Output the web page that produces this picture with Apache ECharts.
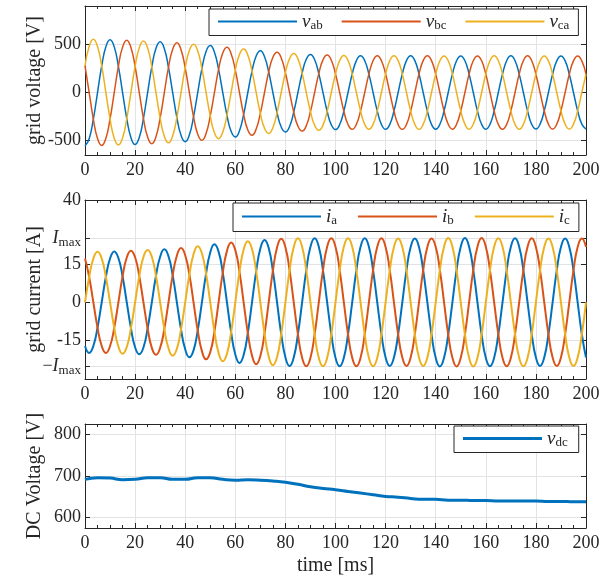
<!DOCTYPE html>
<html><head><meta charset="utf-8">
<script src="https://cdn.jsdelivr.net/npm/echarts@6/dist/echarts.min.js"></script>
<style>html,body{margin:0;padding:0;background:#fff}#c{width:601px;height:580px}</style>
</head><body><div id="c"></div>
<script>
const time = [0,1.67,3.33,5,6.67,8.33,10,11.67,13.33,15,16.67,18.33,
20,21.67,23.33,25,26.67,28.33,30,31.67,33.33,35,36.67,38.33,
40,41.67,43.33,45,46.67,48.33,50,51.67,53.33,55,56.67,58.33,
60,61.67,63.33,65,66.67,68.33,70,71.67,73.33,75,76.67,78.33,
80,81.67,83.33,85,86.67,88.33,90,91.67,93.33,95,96.67,98.33,
100,101.67,103.33,105,106.67,108.33,110,111.67,113.33,115,116.67,118.33,
120,121.67,123.33,125,126.67,128.33,130,131.67,133.33,135,136.67,138.33,
140,141.67,143.33,145,146.67,148.33,150,151.67,153.33,155,156.67,158.33,
160,161.67,163.33,165,166.67,168.33,170,171.67,173.33,175,176.67,178.33,
180,181.67,183.33,185,186.67,188.33,190,191.67,193.33,195,196.67,198.33,
200];
const vab = [-555,-480,-277,0,276,476,549,475,273,0,-272,-469,
-541,-467,-269,0,267,460,529,456,262,0,-259,-445,
-511,-439,-252,0,248,426,488,419,240,0,-236,-404,
-463,-397,-227,0,222,380,434,372,213,0,-210,-359,
-411,-353,-203,0,201,346,396,341,197,0,-195,-336,
-386,-333,-193,0,192,332,382,331,191,0,-191,-331,
-383,-332,-192,0,192,332,383,332,192,0,-192,-332,
-381,-330,-191,0,191,330,381,330,191,0,-191,-330,
-382,-331,-191,0,191,331,382,331,191,0,-191,-331,
-380,-329,-190,0,190,329,380,329,190,0,-190,-329,
-380];
const vbc = [278,0,-277,-478,-551,-476,-275,0,273,472,544,469,
271,0,-269,-463,-533,-460,-265,0,262,450,517,445,
256,0,-252,-433,-496,-426,-244,0,240,412,471,404,
232,0,-227,-389,-444,-380,-217,0,213,366,419,359,
206,0,-203,-350,-401,-346,-198,0,197,339,389,336,
193,0,-193,-333,-383,-332,-191,0,191,331,382,331,
192,0,-192,-332,-383,-332,-192,0,192,332,383,332,
191,0,-191,-330,-381,-330,-191,0,191,330,381,330,
191,0,-191,-331,-382,-331,-191,0,191,331,382,331,
190,0,-190,-329,-380,-329,-190,0,190,329,380,329,
190];
const vca = [278,480,553,478,276,0,-275,-475,-546,-472,-272,0,
271,467,537,463,267,0,-265,-456,-523,-450,-259,0,
256,439,503,433,248,0,-244,-419,-480,-412,-236,0,
232,397,453,389,222,0,-217,-372,-426,-366,-210,0,
206,353,406,350,201,0,-198,-341,-393,-339,-195,0,
193,333,385,333,192,0,-191,-331,-382,-331,-191,0,
192,332,383,332,192,0,-192,-332,-383,-332,-192,0,
191,330,381,330,191,0,-191,-330,-381,-330,-191,0,
191,331,382,331,191,0,-191,-331,-382,-331,-191,0,
190,329,380,329,190,0,-190,-329,-380,-329,-190,0,
190];
const ia = [-17.1,-19.8,-17.1,-9.9,0,9.9,17.1,19.9,17.3,10.1,0,-10.1,
-17.6,-20.3,-17.7,-10.2,0,10.3,17.8,20.7,18.0,10.5,0,-10.6,
-18.4,-21.5,-18.8,-11.0,0,11.2,19.5,22.7,19.8,11.6,0,-11.7,
-20.4,-23.7,-20.6,-12.0,0,12.1,21.0,24.4,21.2,12.3,0,-12.4,
-21.5,-24.9,-21.6,-12.5,0,12.5,21.7,25,21.7,12.5,0,-12.5,
-21.7,-25,-21.7,-12.5,0,12.5,21.7,25,21.7,12.5,0,-12.5,
-21.6,-24.9,-21.6,-12.5,0,12.5,21.6,24.9,21.6,12.5,0,-12.5,
-21.7,-25.1,-21.7,-12.6,0,12.6,21.7,25.1,21.7,12.6,0,-12.6,
-21.7,-25,-21.7,-12.5,0,12.5,21.7,25,21.7,12.5,0,-12.5,
-21.6,-24.9,-21.6,-12.5,0,12.5,21.6,24.9,21.6,12.5,0,-12.5,
-21.6];
const ib = [17.1,9.9,0,-9.9,-17.1,-19.8,-17.1,-10.0,0,10.1,17.5,20.2,
17.6,10.2,0,-10.2,-17.8,-20.5,-17.8,-10.4,0,10.5,18.2,21.2,
18.4,10.8,0,-11.0,-19.1,-22.3,-19.5,-11.4,0,11.6,20.1,23.4,
20.4,11.9,0,-12.0,-20.8,-24.2,-21.0,-12.2,0,12.3,21.4,24.8,
21.5,12.5,0,-12.5,-21.7,-25,-21.7,-12.5,0,12.5,21.7,25,
21.7,12.5,0,-12.5,-21.7,-25,-21.7,-12.5,0,12.5,21.7,25,
21.6,12.5,0,-12.5,-21.6,-24.9,-21.6,-12.5,0,12.5,21.6,24.9,
21.7,12.6,0,-12.6,-21.7,-25.1,-21.7,-12.6,0,12.6,21.7,25.1,
21.7,12.5,0,-12.5,-21.7,-25,-21.7,-12.5,0,12.5,21.7,25,
21.6,12.5,0,-12.5,-21.6,-24.9,-21.6,-12.5,0,12.5,21.6,24.9,
21.6];
const ic = [0,9.9,17.1,19.8,17.1,9.9,0,-10.0,-17.3,-20.1,-17.5,-10.1,
0,10.2,17.7,20.4,17.8,10.3,0,-10.4,-18.0,-20.9,-18.2,-10.6,
0,10.8,18.8,21.9,19.1,11.2,0,-11.4,-19.8,-23.1,-20.1,-11.7,
0,11.9,20.6,23.9,20.8,12.1,0,-12.2,-21.2,-24.6,-21.4,-12.4,
0,12.5,21.6,25,21.7,12.5,0,-12.5,-21.7,-25,-21.7,-12.5,
0,12.5,21.7,25,21.7,12.5,0,-12.5,-21.7,-25,-21.7,-12.5,
0,12.5,21.6,24.9,21.6,12.5,0,-12.5,-21.6,-24.9,-21.6,-12.5,
0,12.6,21.7,25.1,21.7,12.6,0,-12.6,-21.7,-25.1,-21.7,-12.6,
0,12.5,21.7,25,21.7,12.5,0,-12.5,-21.7,-25,-21.7,-12.5,
0,12.5,21.6,24.9,21.6,12.5,0,-12.5,-21.6,-24.9,-21.6,-12.5,
0];
const dcTime = [0,5,10,15,20,25,30,35,40,45,50,55,60,65,70,75,80,85,90,95,100,
105,110,115,120,125,130,135,140,145,150,155,160,165,170,175,180,185,190,195,200];
const vdc = [692,696,695,691,692,696,696,692,692,696,696,692,690,691,690,688,685,680,674,670,667,
663,659,655,651,649,646,644,644,642,642,641,641,640,640,640,640,639,639,638,638];
const vTicks = [-500, 0, 500];
const iTicks = [-25, -15, 0, 15, 25, 40];
const dcTicks = [600, 700, 800];

const FONT = 'Liberation Serif';
const INK = '#262626';
const GRID = '#e3e3e3';
const C = ['#0072BD', '#D95319', '#EDB120'];

const sub = {
  v: {fontFamily: FONT, fontStyle: 'italic', fontSize: 19, color: INK, lineHeight: 22},
  s: {fontFamily: FONT, fontSize: 13, color: INK, verticalAlign: 'bottom', lineHeight: 22}
};
const legendNames = {
  vab: '{v|v}{s|ab}', vbc: '{v|v}{s|bc}', vca: '{v|v}{s|ca}',
  ia: '{v|i}{s|a}', ib: '{v|i}{s|b}', ic: '{v|i}{s|c}', vdc: '{v|v}{s|dc}'
};

function xAx(gi, pos) {
  return {
    type: 'value', gridIndex: gi, position: pos, min: 0, max: 200, interval: 20,
    axisLine: {show: true, onZero: false, lineStyle: {color: INK, width: 1}},
    axisTick: {show: true, inside: true, length: 5, lineStyle: {color: INK}},
    minorTick: {show: true, splitNumber: 4, length: 3, lineStyle: {color: INK}},
    splitLine: {show: pos === 'bottom', lineStyle: {color: GRID, width: 1}},
    axisLabel: {show: pos === 'bottom', fontFamily: FONT, fontSize: 18, color: INK, margin: 6},
    nameMoveOverlap: false,
    nameTextStyle: {fontFamily: FONT, fontSize: 20, color: INK}
  };
}
function yAx(gi, pos, min, max, ticks, fmt, name) {
  return {
    type: 'value', gridIndex: gi, position: pos, min: min, max: max,
    name: pos === 'left' ? name : '', nameLocation: 'middle', nameGap: 40,
    nameMoveOverlap: false,
    nameTextStyle: {fontFamily: FONT, fontSize: 20, color: INK},
    axisLine: {show: true, onZero: false, lineStyle: {color: INK, width: 1}},
    axisTick: {show: true, inside: true, length: 5, customValues: ticks, lineStyle: {color: INK}},
    splitLine: {show: pos === 'left', lineStyle: {color: GRID, width: 1}},
    axisLabel: {show: pos === 'left', customValues: ticks, formatter: fmt, fontFamily: FONT,
      fontSize: 18, color: INK, margin: 4,
      rich: {i: {fontFamily: FONT, fontStyle: 'italic', fontSize: 18, color: INK, lineHeight: 22},
             s: {fontFamily: FONT, fontSize: 13, color: INK, verticalAlign: 'bottom', lineHeight: 22},
             m: {fontFamily: FONT, fontSize: 18, color: INK, lineHeight: 22}}}
  };
}
const fmtPlain = v => (v < 0 ? '-' + Math.abs(v) : String(v));
const fmtI = v => v === 25 ? '{i|I}{s|max}' : v === -25 ? '{m|\u2212}{i|I}{s|max}' : fmtPlain(v);

function line(name, xi, yi, xs, ys, color, w) {
  return {
    name: name, type: 'line', xAxisIndex: xi, yAxisIndex: yi,
    data: xs.map((t, i) => [t, ys[i]]), showSymbol: false, smooth: true,
    lineStyle: {color: color, width: w}, itemStyle: {color: color}, animation: false
  };
}
function legend(names, left, top, width, pad, ih, gap) {
  return {
    data: names, left: left, top: top, orient: 'horizontal', icon: 'rect',
    itemWidth: 79, itemHeight: ih, itemGap: gap, padding: pad,
    borderColor: INK, borderWidth: 1, backgroundColor: '#fff', borderRadius: 0,
    formatter: n => legendNames[n],
    textStyle: {width: width, rich: sub, fontFamily: FONT}
  };
}

const chart = echarts.init(document.getElementById('c'), null, {renderer: 'canvas'});
chart.setOption({
  animation: false,
  backgroundColor: '#fff',
  grid: [
    {left: 85, right: 15, top: 6, height: 149, outerBoundsMode: 'none'},
    {left: 85, right: 15, top: 200, height: 179, outerBoundsMode: 'none'},
    {left: 85, right: 15, top: 424, height: 104, outerBoundsMode: 'none'}
  ],
  xAxis: [
    xAx(0, 'bottom'), xAx(0, 'top'),
    xAx(1, 'bottom'), xAx(1, 'top'),
    Object.assign(xAx(2, 'bottom'), {name: 'time [ms]', nameLocation: 'middle', nameGap: 28}),
    xAx(2, 'top')
  ],
  yAxis: [
    yAx(0, 'left', -650, 900, vTicks, fmtPlain, 'grid voltage [V]'),
    yAx(0, 'right', -650, 900, vTicks, fmtPlain, ''),
    yAx(1, 'left', -30, 40, iTicks, fmtI, 'grid current [A]'),
    yAx(1, 'right', -30, 40, iTicks, fmtI, ''),
    yAx(2, 'left', 575, 825, dcTicks, fmtPlain, 'DC Voltage [V]'),
    yAx(2, 'right', 575, 825, dcTicks, fmtPlain, '')
  ],
  legend: [
    legend(['vab', 'vbc', 'vca'], 209, 9, 26, [3, 9, 3, 9], 2, 19),
    legend(['ia', 'ib', 'ic'], 233, 203, 18, [4, 9, 4, 9], 2, 21),
    legend(['vdc'], 454, 426, 25, [3, 11, 3, 9], 3, 13)
  ],
  series: [
    line('vab', 0, 0, time, vab, C[0], 1.5),
    line('vbc', 0, 0, time, vbc, C[1], 1.5),
    line('vca', 0, 0, time, vca, C[2], 1.5),
    line('ia', 2, 2, time, ia, C[0], 2),
    line('ib', 2, 2, time, ib, C[1], 2),
    line('ic', 2, 2, time, ic, C[2], 2),
    line('vdc', 4, 4, dcTime, vdc, C[0], 3)
  ]
});
</script></body></html>
